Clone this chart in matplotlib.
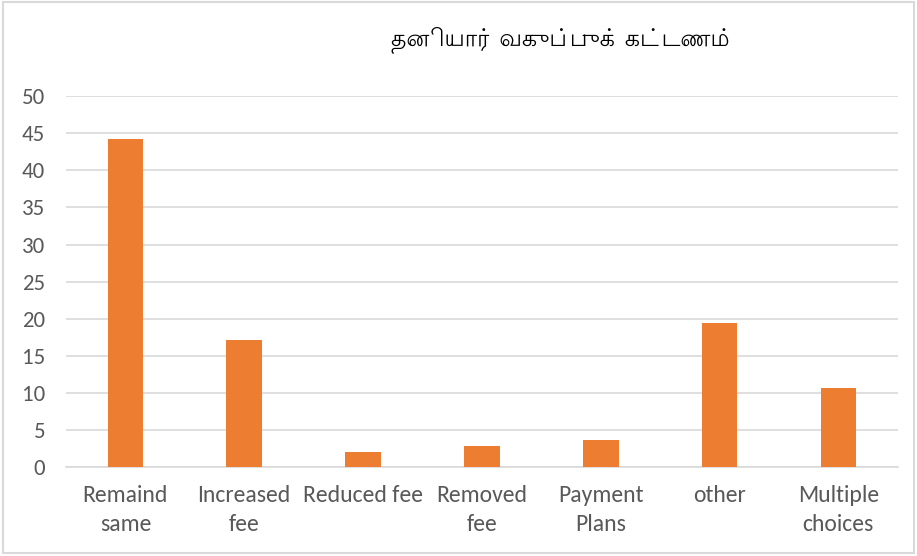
import matplotlib
matplotlib.use("Agg")
import matplotlib.pyplot as plt

# chart data
categories = ["Remaind\nsame", "Increased\nfee", "Reduced fee", "Removed\nfee",
              "Payment\nPlans", "other", "Multiple\nchoices"]
counts = [44.2, 17.1, 2.0, 2.8, 3.6, 19.4, 10.7]
yticks = [0, 5, 10, 15, 20, 25, 30, 35, 40, 45, 50]
title = "தனியார் வகுப்புக் கட்டணம்"

label_font = ["Carlito", "Liberation Sans Narrow", "DejaVu Sans"]
txt_color = "#595959"

fig = plt.figure(figsize=(9.17, 5.56), dpi=100)
ax = fig.add_axes([0.072, 0.160, 0.907, 0.667])

x = list(range(len(categories)))
ax.bar(x, counts, width=0.30, color="#ED7D31", zorder=3)

ax.set_xlim(-0.5, len(categories) - 0.5)
ax.set_ylim(0, 50)
ax.set_yticks(yticks)
ax.set_xticks(x)
ax.set_xticklabels(categories, family=label_font, fontsize=17, color=txt_color,
                   linespacing=1.45)
ax.set_yticklabels([str(v) for v in yticks], family=label_font, fontsize=16.5,
                   color=txt_color)
ax.tick_params(axis="both", length=0)
ax.tick_params(axis="y", pad=15)
ax.tick_params(axis="x", pad=13)

ax.grid(axis="y", color="#d9d9d9", linewidth=1.2, zorder=0)
for s in ["top", "right", "left"]:
    ax.spines[s].set_visible(False)
ax.spines["bottom"].set_color("#d9d9d9")
ax.spines["bottom"].set_linewidth(1.2)

fig.text(0.612, 0.928, title, ha="center", va="center", fontsize=17,
         family=["Lohit Tamil", "DejaVu Sans"], color="black")

# thin frame around the whole chart
fig.patches.append(plt.Rectangle((0.003, 0.006), 0.994, 0.99, transform=fig.transFigure,
                                 fill=False, edgecolor="#d9d9d9", linewidth=1.5))

fig.savefig("out.png", dpi=100)
